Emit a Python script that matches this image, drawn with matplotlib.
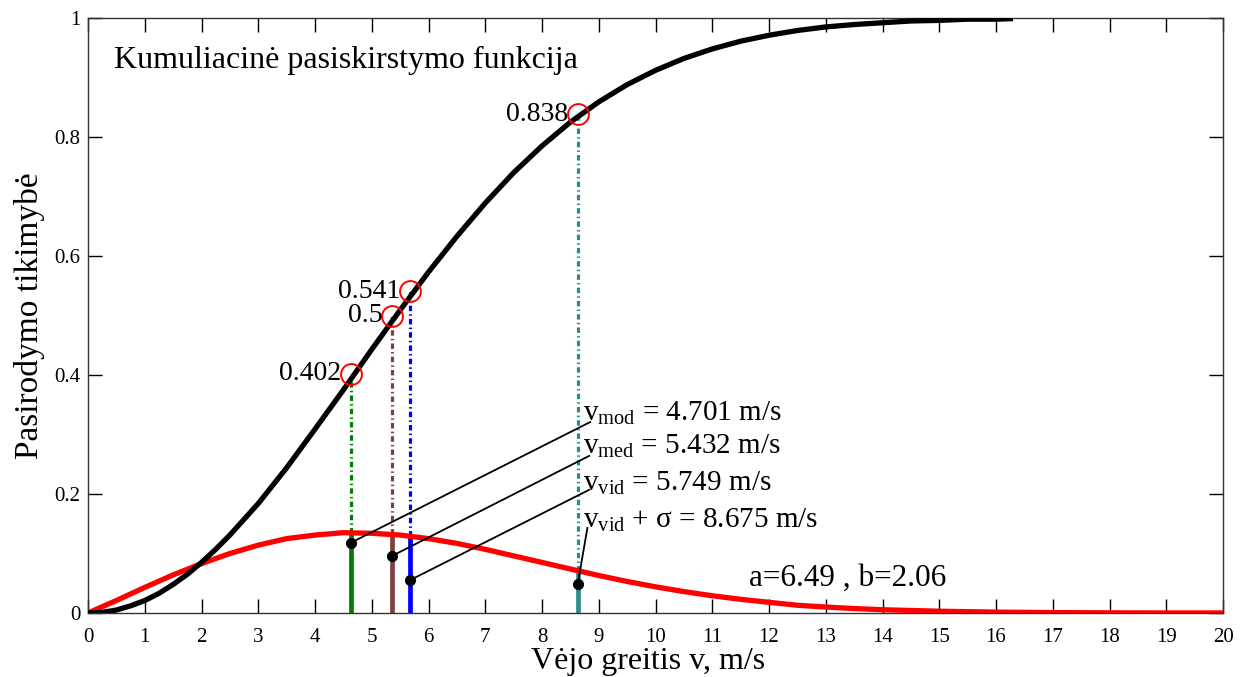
import matplotlib
matplotlib.use("Agg")
import matplotlib.pyplot as plt
import numpy as np

# ---- data ----
v_grid = [0, 0.25, 0.5, 0.75, 1, 1.25, 1.5, 1.75, 2, 2.25, 2.5, 3, 3.5, 4, 4.5, 5, 5.5,
          6, 6.5, 7, 7.5, 8, 8.5, 9, 9.5, 10, 10.5, 11, 11.5, 12, 12.5, 13, 13.5, 14,
          14.5, 15, 15.5, 16, 16.3]
cdf_vals = [0.0, 0.001, 0.005, 0.012, 0.021, 0.033, 0.048, 0.065, 0.085, 0.107, 0.131,
            0.184, 0.244, 0.309, 0.375, 0.443, 0.509, 0.573, 0.633, 0.689, 0.740,
            0.785, 0.825, 0.859, 0.888, 0.912, 0.932, 0.948, 0.961, 0.971, 0.979,
            0.985, 0.989, 0.992, 0.995, 0.996, 0.998, 0.998, 0.999]

pdf_x = [0, 0.5, 1, 1.5, 2, 2.5, 3, 3.5, 4, 4.5, 5, 5.5, 6, 6.5, 7, 7.5, 8, 8.5, 9,
         9.5, 10, 10.5, 11, 11.5, 12, 12.5, 13, 13.5, 14, 15, 16, 17, 18, 19, 20]
pdf_vals = [0.0, 0.021, 0.043, 0.064, 0.083, 0.100, 0.114, 0.125, 0.131, 0.135, 0.134,
            0.131, 0.125, 0.117, 0.107, 0.096, 0.085, 0.074, 0.063, 0.053, 0.044,
            0.036, 0.029, 0.023, 0.018, 0.013, 0.010, 0.0075, 0.0055, 0.003, 0.0015,
            0.0007, 0.0003, 0.0001, 0.0001]

# characteristic speeds (position on the chart), CDF value, PDF value, dot height
mark_x = [4.63, 5.36, 5.67, 8.63]
mark_cdf = [0.402, 0.5, 0.541, 0.838]
mark_pdf = [0.135, 0.132, 0.130, 0.071]
mark_cdf_labels = ["0.402", "0.5", "0.541", "0.838"]
mark_colors = ["#008000", "#7f4040", "#0000ff", "#2e8b8b"]
dot_y = [0.118, 0.096, 0.055, 0.049]
ann_labels = [r"$\mathrm{v_{mod}}$ = 4.701 m/s",
              r"$\mathrm{v_{med}}$ = 5.432 m/s",
              r"$\mathrm{v_{vid}}$ = 5.749 m/s",
              r"$\mathrm{v_{vid}}$ + σ = 8.675 m/s"]
ann_text_y = [0.336, 0.280, 0.217, 0.155]
ann_line_end = [(8.85, 0.321), (8.83, 0.264), (8.83, 0.207), (8.80, 0.143)]

x_ticks = list(range(0, 21))
y_ticks = [0, 0.2, 0.4, 0.6, 0.8, 1]
y_tick_labels = ["0", "0.2", "0.4", "0.6", "0.8", "1"]

plt.rcParams['font.family'] = ['Liberation Serif', 'DejaVu Serif']
plt.rcParams['mathtext.fontset'] = 'custom'
plt.rcParams['mathtext.rm'] = 'Liberation Serif'
plt.rcParams['mathtext.it'] = 'Liberation Serif:italic'

fig = plt.figure(figsize=(12.43, 6.77), dpi=100)
ax = fig.add_axes([88/1243, 64/677, (1223-88)/1243, (613-18)/677])

ax.plot(pdf_x, pdf_vals, color='#ff0000', lw=3.8, solid_capstyle='butt', zorder=3)
ax.plot(v_grid, cdf_vals, color='black', lw=3.8, solid_capstyle='butt', zorder=4)

for x, c, p, col in zip(mark_x, mark_cdf, mark_pdf, mark_colors):
    ax.plot([x, x], [0, p], color=col, lw=3.4, solid_capstyle='butt', zorder=2)
    ax.plot([x, x], [p, c], color=col, lw=2.3, dashes=(1.7, 1.0, 0.45, 1.0), zorder=2)

for x, c, lab in zip(mark_x, mark_cdf, mark_cdf_labels):
    ax.plot([x], [c], marker='o', ms=15, mfc='none', mec='#ff0000', mew=1.4, zorder=6)
    ax.text(x - 0.17, c, lab, fontsize=20, ha='right', va='center', zorder=7)

for x, dy, (ex, ey), ty, lab in zip(mark_x, dot_y, ann_line_end, ann_text_y, ann_labels):
    ax.plot([x, ex], [dy, ey], color='black', lw=1.3, zorder=6)
    ax.plot([x], [dy], marker='o', ms=7, color='black', zorder=7)
    ax.text(8.72, ty, lab, fontsize=21, ha='left', va='center', zorder=7)

ax.text(0.45, 0.928, "Kumuliacinė pasiskirstymo funkcija", fontsize=23, ha='left', va='center')
ax.text(11.65, 0.058, "a=6.49 , b=2.06", fontsize=22.5, ha='left', va='center')

ax.set_xlim(0, 20)
ax.set_ylim(0, 1)
ax.set_xticks(x_ticks)
ax.set_xticklabels([str(t) for t in x_ticks])
ax.set_yticks(y_ticks)
ax.set_yticklabels(y_tick_labels)
ax.tick_params(direction='in', length=10, width=1, top=True, right=True,
               labelsize=15, colors='black')
ax.tick_params(axis='x', pad=11)
ax.tick_params(axis='y', pad=5.5)
for s in ax.spines.values():
    s.set_color('#333333')
    s.set_linewidth(1.0)

ax.set_xlabel("Vėjo greitis v, m/s", fontsize=23)
ax.xaxis.set_label_coords((648-88)/1135, (613-662)/595)
ax.xaxis.label.set_va('center')
ax.set_ylabel("Pasirodymo tikimybė", fontsize=24)
ax.yaxis.set_label_coords((30-88)/1135, 0.5)
ax.yaxis.label.set_va('center')

fig.savefig("out.png", dpi=100)
